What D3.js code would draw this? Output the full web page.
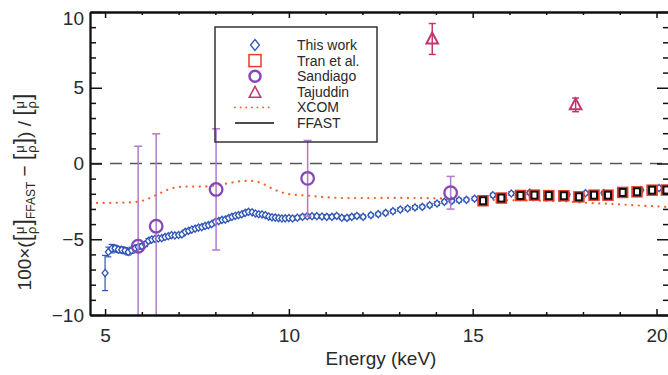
<!DOCTYPE html>
<html>
<head>
<meta charset="utf-8">
<script src="https://cdn.jsdelivr.net/npm/d3@7"></script>
<style>
  body { margin: 0; background: #fff; }
  svg { display: block; font-family: "Liberation Sans", Arial, sans-serif; }
</style>
</head>
<body>
<div id="root"></div>
<script>
// ---- data ----
// This work (blue diamonds)
const workE = [5.00, 5.09, 5.18, 5.27, 5.36, 5.45, 5.54, 5.63, 5.72, 5.81, 5.90, 6.00, 6.09, 6.18, 6.27, 6.36,
  6.45, 6.54, 6.63, 6.72, 6.81, 6.90, 7.00, 7.09, 7.18, 7.27, 7.36, 7.45, 7.54, 7.63, 7.72, 7.81, 7.90,
  8.00, 8.09, 8.18, 8.27, 8.36, 8.45, 8.54, 8.63, 8.72, 8.81, 8.90, 9.00, 9.09, 9.18, 9.27, 9.36, 9.45,
  9.54, 9.63, 9.72, 9.81, 9.90, 10.00, 10.10, 10.23, 10.37, 10.50, 10.63, 10.76, 10.90, 11.03, 11.17,
  11.30, 11.44, 11.58, 11.71, 11.85, 12.02, 12.23, 12.43, 12.63, 12.83, 13.03, 13.23, 13.43, 13.63,
  13.83, 14.03, 14.23, 14.43, 14.63, 14.83, 15.05, 15.55, 16.05, 16.55, 17.07, 17.57, 18.07, 18.57,
  19.07, 19.57, 20.07];
const workV = [-7.23, -5.84, -5.62, -5.60, -5.68, -5.70, -5.75, -5.84, -5.73, -5.60, -5.51, -5.45, -5.33, -5.11, -5.02, -4.97,
  -4.95, -4.93, -4.85, -4.80, -4.73, -4.75, -4.72, -4.68, -4.51, -4.45, -4.36, -4.30, -4.23, -4.20, -4.12, -4.07, -4.00,
  -3.85, -3.80, -3.72, -3.70, -3.60, -3.52, -3.45, -3.41, -3.35, -3.26, -3.19, -3.22, -3.30, -3.35, -3.36, -3.41, -3.50,
  -3.55, -3.57, -3.60, -3.63, -3.62, -3.60, -3.63, -3.58, -3.52, -3.48, -3.48, -3.48, -3.50, -3.52, -3.52,
  -3.46, -3.58, -3.59, -3.52, -3.46, -3.52, -3.41, -3.34, -3.26, -3.15, -3.04, -2.97, -2.90, -2.86,
  -2.75, -2.64, -2.53, -2.47, -2.42, -2.40, -2.32, -2.09, -1.98, -1.93, -2.02, -2.05, -1.96, -1.95,
  -1.85, -1.75, -1.62];
const workErr = [1.16, 0.32, 0.28, 0.2, 0.2, 0.2, 0.2, 0.2, 0.2, 0.15, 0.15, 0.15, 0.15, 0.15, 0.15, 0.15,
  0.12, 0.12, 0.12, 0.12, 0.12, 0.12, 0.12, 0.12, 0.12, 0.12, 0.12, 0.12, 0.12, 0.12, 0.12, 0.12, 0.12,
  0.12, 0.12, 0.12, 0.12, 0.12, 0.12, 0.12, 0.12, 0.12, 0.12, 0.12, 0.12, 0.12, 0.12, 0.12, 0.12, 0.12,
  0.12, 0.12, 0.12, 0.12, 0.12, 0.12, 0.12, 0.12, 0.12, 0.12, 0.12, 0.12, 0.12, 0.12, 0.12,
  0.12, 0.12, 0.12, 0.12, 0.12, 0.12, 0.12, 0.12, 0.12, 0.12, 0.12, 0.12, 0.12, 0.12,
  0.12, 0.12, 0.12, 0.12, 0.12, 0.12, 0.12, 0.12, 0.12, 0.12, 0.12, 0.12, 0.12, 0.12,
  0.12, 0.12, 0.12];

// Tran et al. (red squares)
const tranE = [15.28, 15.78, 16.30, 16.68, 17.07, 17.48, 17.89, 18.30, 18.68, 19.08, 19.47, 19.88, 20.27];
const tranV = [-2.46, -2.28, -2.11, -2.09, -2.12, -2.13, -2.20, -2.09, -2.09, -1.91, -1.87, -1.76, -1.75];

// Sandiago (purple circles)
const sandE = [5.90, 6.39, 8.02, 10.51, 14.40];
const sandV = [-5.46, -4.14, -1.71, -0.98, -1.93];
const sandErr = [6.6, 6.1, 4.0, 2.5, 1.08];

// Tajuddin (triangles)
const tajE = [13.90, 17.80];
const tajV = [8.22, 3.87];
const tajErr = [1.02, 0.45];

// XCOM (dotted curve)
const xcomE = [4.6, 5.0, 5.5, 5.9, 6.2, 6.5, 6.8, 7.2, 7.6, 8.0, 8.4, 8.8, 9.0, 9.3, 9.6, 10.0, 10.5, 11.0,
  11.5, 12.0, 13.0, 14.0, 15.0, 16.0, 17.0, 17.5, 18.0, 18.5, 19.0, 19.5, 20.0, 20.4];
const xcomV = [-2.6, -2.6, -2.58, -2.52, -2.3, -1.95, -1.65, -1.52, -1.52, -1.45, -1.28, -1.15, -1.15, -1.35,
  -1.72, -2.02, -2.12, -2.22, -2.28, -2.28, -2.27, -2.3, -2.37, -2.42, -2.46, -2.5, -2.58, -2.64, -2.7,
  -2.77, -2.83, -2.88];

const xMajor = [5, 10, 15, 20];
const xMinor = [6, 7, 8, 9, 11, 12, 13, 14, 16, 17, 18, 19];
const yMajor = [-10, -5, 0, 5, 10];
const yMinor = [-9, -8, -7, -6, -4, -3, -2, -1, 1, 2, 3, 4, 6, 7, 8, 9];

const legendNames = ["This work", "Tran et al.", "Sandiago", "Tajuddin", "XCOM", "FFAST"];

// ---- layout ----
const W = 668, H = 375;
const margin = { top: 12, right: -1, bottom: 60, left: 90 };
const width = W - margin.left - margin.right,
      height = H - margin.top - margin.bottom;

const blue = "#2f55b5", red = "#e63b2e", purple = "#8548b5", lilac = "#b07ad0",
      crimson = "#c2386e", orange = "#f0602a", ink = "#2a2a2a";

const svg = d3.select("#root").append("svg")
    .attr("width", W).attr("height", H);

const g = svg.append("g")
    .attr("transform", "translate(" + margin.left + "," + margin.top + ")");

const x = d3.scaleLinear().domain([4.59, 20.34]).range([0, width]);
const y = d3.scaleLinear().domain([-10, 10]).range([height, 0]);

svg.append("defs").append("clipPath").attr("id", "clip")
  .append("rect").attr("width", width).attr("height", height);

const plot = g.append("g").attr("clip-path", "url(#clip)");

// zero line
plot.append("line")
    .attr("x1", 0).attr("x2", width)
    .attr("y1", y(0)).attr("y2", y(0))
    .attr("stroke", "#555").attr("stroke-width", 1.5)
    .attr("stroke-dasharray", "12,8");

// XCOM
const xcom = xcomE.map((e, i) => [e, xcomV[i]]);
plot.append("path")
    .datum(xcom)
    .attr("fill", "none")
    .attr("stroke", orange)
    .attr("stroke-width", 2.2)
    .attr("stroke-linecap", "round")
    .attr("stroke-dasharray", "0.1,6.5")
    .attr("d", d3.line().curve(d3.curveMonotoneX).x(d => x(d[0])).y(d => y(d[1])));

// error bar helper
function errBars(sel, data, color, cap, sw) {
  const eb = sel.append("g").attr("stroke", color).attr("stroke-width", sw);
  eb.selectAll(".v").data(data).enter().append("line")
    .attr("x1", d => x(d.e)).attr("x2", d => x(d.e))
    .attr("y1", d => y(d.v - d.err)).attr("y2", d => y(d.v + d.err));
  eb.selectAll(".t").data(data).enter().append("line")
    .attr("x1", d => x(d.e) - cap).attr("x2", d => x(d.e) + cap)
    .attr("y1", d => y(d.v + d.err)).attr("y2", d => y(d.v + d.err));
  eb.selectAll(".b").data(data).enter().append("line")
    .attr("x1", d => x(d.e) - cap).attr("x2", d => x(d.e) + cap)
    .attr("y1", d => y(d.v - d.err)).attr("y2", d => y(d.v - d.err));
}

const diamond = "M0,-3.6L3,0L0,3.6L-3,0Z";

// This work
const work = workE.map((e, i) => ({ e: e, v: workV[i], err: workErr[i] }));
errBars(plot, work, blue, 3, 1.2);
plot.append("g").selectAll("path").data(work).enter().append("path")
    .attr("d", diamond)
    .attr("transform", d => "translate(" + x(d.e) + "," + y(d.v) + ")")
    .attr("fill", "#fff").attr("stroke", blue).attr("stroke-width", 1.3);

// Tran et al.
const tran = tranE.map((e, i) => ({ e: e, v: tranV[i], err: 0.15 }));
plot.append("g").selectAll("rect").data(tran).enter().append("rect")
    .attr("x", d => x(d.e) - 4.5).attr("y", d => y(d.v) - 4.5)
    .attr("width", 9).attr("height", 9)
    .attr("fill", "none").attr("stroke", red).attr("stroke-width", 2.5);
plot.append("g").selectAll("rect").data(tran).enter().append("rect")
    .attr("x", d => x(d.e) - 3).attr("y", d => y(d.v) - 3.5)
    .attr("width", 6).attr("height", 7)
    .attr("fill", "#fff").attr("stroke", "#111").attr("stroke-width", 2);
errBars(plot, tran, "#fff", 0, 1);

// Sandiago
const sand = sandE.map((e, i) => ({ e: e, v: sandV[i], err: sandErr[i] }));
errBars(plot, sand, lilac, 4, 1.5);
plot.append("g").selectAll("circle").data(sand).enter().append("circle")
    .attr("cx", d => x(d.e)).attr("cy", d => y(d.v)).attr("r", 6.3)
    .attr("fill", "none").attr("stroke", purple).attr("stroke-width", 2.3);

// Tajuddin
const taj = tajE.map((e, i) => ({ e: e, v: tajV[i], err: tajErr[i] }));
errBars(plot, taj, crimson, 3.5, 1.5);
const tri = "M0,-6.5L5.8,4.5L-5.8,4.5Z";
plot.append("g").selectAll("path").data(taj).enter().append("path")
    .attr("d", tri)
    .attr("transform", d => "translate(" + x(d.e) + "," + y(d.v) + ")")
    .attr("fill", "none").attr("stroke", crimson).attr("stroke-width", 2);

// ---- axes (ticks inward, all four sides) ----
function styleAxis(a) {
  a.select(".domain").attr("stroke", "#111").attr("stroke-width", 1.8);
  a.selectAll(".tick line").attr("stroke", "#111").attr("stroke-width", 1.5);
  a.selectAll("text").attr("fill", ink).style("font-size", "19px")
    .style("font-family", "Liberation Sans, Arial, sans-serif");
}
const fmt = d => d < 0 ? "\u2212" + Math.abs(d) : String(d);

const bottom = g.append("g").attr("transform", "translate(0," + height + ")")
    .call(d3.axisBottom(x).tickValues(xMajor).tickSize(-6).tickSizeOuter(0).tickPadding(14).tickFormat(fmt));
styleAxis(bottom);
styleAxis(g.append("g").attr("transform", "translate(0," + height + ")")
    .call(d3.axisBottom(x).tickValues(xMinor).tickSize(-3).tickSizeOuter(0).tickFormat("")));
styleAxis(g.append("g").call(d3.axisTop(x).tickValues(xMajor).tickSize(-6).tickSizeOuter(0).tickFormat("")));
styleAxis(g.append("g").call(d3.axisTop(x).tickValues(xMinor).tickSize(-3).tickSizeOuter(0).tickFormat("")));

const left = g.append("g")
    .call(d3.axisLeft(y).tickValues(yMajor).tickSize(-12).tickSizeOuter(0).tickPadding(6).tickFormat(fmt));
styleAxis(left);
left.selectAll(".tick text").filter(d => d === 10).attr("dy", "0.65em");
styleAxis(g.append("g").call(d3.axisLeft(y).tickValues(yMinor).tickSize(-6).tickSizeOuter(0).tickFormat("")));
styleAxis(g.append("g").attr("transform", "translate(" + width + ",0)")
    .call(d3.axisRight(y).tickValues(yMajor).tickSize(-12).tickSizeOuter(0).tickFormat("")));
styleAxis(g.append("g").attr("transform", "translate(" + width + ",0)")
    .call(d3.axisRight(y).tickValues(yMinor).tickSize(-6).tickSizeOuter(0).tickFormat("")));

// x title
svg.append("text")
    .attr("x", 381).attr("y", 365)
    .attr("text-anchor", "middle")
    .attr("fill", ink).style("font-size", "19px")
    .text("Energy (keV)");

// y title with stacked mu/rho fractions
const yt = svg.append("text")
    .attr("transform", "translate(31,192) rotate(-90)")
    .attr("text-anchor", "middle")
    .attr("fill", ink).style("font-size", "19px");
function frac(t) {
  t.append("tspan").style("font-size", "23px").attr("dy", 0).text("[");
  t.append("tspan").style("font-size", "13px").attr("dx", 1).attr("dy", -7).text("\u03bc");
  t.append("tspan").style("font-size", "13px").attr("dx", -7.5).attr("dy", 12).text("\u03c1");
  t.append("tspan").style("font-size", "23px").attr("dx", 1).attr("dy", -5).text("]");
}
yt.append("tspan").text("100\u00d7(");
frac(yt);
yt.append("tspan").style("font-size", "12px").attr("dy", 4).text("FFAST");
yt.append("tspan").attr("dy", -4).text(" \u2212 ");
frac(yt);
yt.append("tspan").text(") / ");
frac(yt);

// ---- legend ----
const lg = svg.append("g");
lg.append("rect")
    .attr("x", 215).attr("y", 27).attr("width", 162).attr("height", 115)
    .attr("fill", "none").attr("stroke", "#333").attr("stroke-width", 1.5);
const rowY = d3.scalePoint().domain(legendNames).range([45, 123]);
const symX = 255;
lg.selectAll("text").data(legendNames).enter().append("text")
    .attr("x", 297).attr("y", d => rowY(d)).attr("dy", "0.35em")
    .attr("fill", ink).style("font-size", "14px")
    .text(d => d);
lg.append("path").attr("d", "M0,-5.5L4.5,0L0,5.5L-4.5,0Z")
    .attr("transform", "translate(" + symX + "," + rowY("This work") + ")")
    .attr("fill", "none").attr("stroke", blue).attr("stroke-width", 1.3);
lg.append("rect").attr("x", symX - 6).attr("y", rowY("Tran et al.") - 6)
    .attr("width", 12).attr("height", 12)
    .attr("fill", "none").attr("stroke", red).attr("stroke-width", 1.5);
lg.append("circle").attr("cx", symX).attr("cy", rowY("Sandiago")).attr("r", 5.5)
    .attr("fill", "none").attr("stroke", purple).attr("stroke-width", 2.5);
lg.append("path").attr("d", tri)
    .attr("transform", "translate(" + symX + "," + (rowY("Tajuddin") + 1) + ")")
    .attr("fill", "none").attr("stroke", crimson).attr("stroke-width", 1.5);
lg.append("line").attr("x1", 235).attr("x2", 274)
    .attr("y1", rowY("XCOM")).attr("y2", rowY("XCOM"))
    .attr("stroke", orange).attr("stroke-width", 1.8)
    .attr("stroke-linecap", "round").attr("stroke-dasharray", "0.1,5.5");
lg.append("line").attr("x1", 235).attr("x2", 274)
    .attr("y1", rowY("FFAST")).attr("y2", rowY("FFAST"))
    .attr("stroke", "#111").attr("stroke-width", 1.5);
</script>
</body>
</html>
